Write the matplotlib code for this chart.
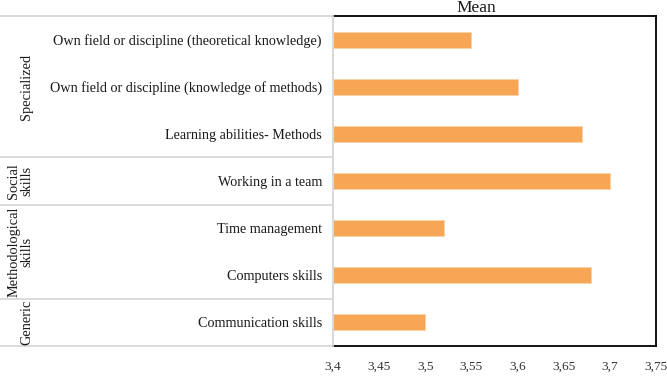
import matplotlib
matplotlib.use("Agg")
import matplotlib.pyplot as plt
import matplotlib.transforms as mtransforms
from matplotlib.lines import Line2D
import numpy as np

plt.rcParams['font.family'] = ['Liberation Serif', 'DejaVu Serif']

categories = [
    "Own field or discipline (theoretical knowledge)",
    "Own field or discipline (knowledge of methods)",
    "Learning abilities- Methods",
    "Working in a team",
    "Time management",
    "Computers skills",
    "Communication skills",
]
means = [3.55, 3.60, 3.67, 3.70, 3.52, 3.68, 3.50]
groups = ["Specialized", "Social\nskills", "Methodological\nskills", "Generic"]
group_sizes = [3, 1, 2, 1]
xticks = [3.4, 3.45, 3.5, 3.55, 3.6, 3.65, 3.7, 3.75]
xtick_labels = ["3,4", "3,45", "3,5", "3,55", "3,6", "3,65", "3,7", "3,75"]

W, H = 667, 378
fig = plt.figure(figsize=(W / 100, H / 100), dpi=100)
ax = fig.add_axes([333 / W, 1 - 346 / H, (656 - 333) / W, (346 - 16) / H])

y = np.arange(len(categories))
ax.barh(y, [m - 3.4 for m in means], left=3.4, height=0.34,
        color="#F6A654", edgecolor="#FBD3A8", linewidth=0.6)
ax.set_xlim(3.4, 3.75)
ax.set_ylim(len(categories) - 0.5, -0.5)
ax.set_yticks(y)
ax.set_yticklabels(categories, fontsize=10.2, color="#1a1a1a")
ax.set_xticks(xticks)
ax.set_xticklabels(xtick_labels, fontsize=9.6, color="#333333")
ax.tick_params(axis="both", length=0)
ax.tick_params(axis="y", pad=8)
ax.tick_params(axis="x", pad=10.5)

for s in ["top", "right", "bottom"]:
    ax.spines[s].set_color("black")
    ax.spines[s].set_linewidth(1.3)
ax.spines["left"].set_color("#D9D9D9")
ax.spines["left"].set_linewidth(1.5)

# group separators (x in figure coords, y in data coords)
trans = mtransforms.blended_transform_factory(fig.transFigure, ax.transData)
bounds = np.concatenate([[0], np.cumsum(group_sizes)]) - 0.5
for b in bounds:
    fig.add_artist(Line2D([0, 333 / W], [b, b], transform=trans,
                          color="#D9D9D9", linewidth=1.3))

for i, g in enumerate(groups):
    yc = (bounds[i] + bounds[i + 1]) / 2
    fig.text(33 / W, yc, g, transform=trans, rotation=90, ha="right",
             va="center", fontsize=10.4, color="#1a1a1a", linespacing=0.95,
             multialignment="center")

fig.text(476 / W, 1 - 8.5 / H, "Mean", ha="center", va="center", fontsize=12.5,
         color="#1a1a1a")

fig.savefig("out.png", dpi=100)
